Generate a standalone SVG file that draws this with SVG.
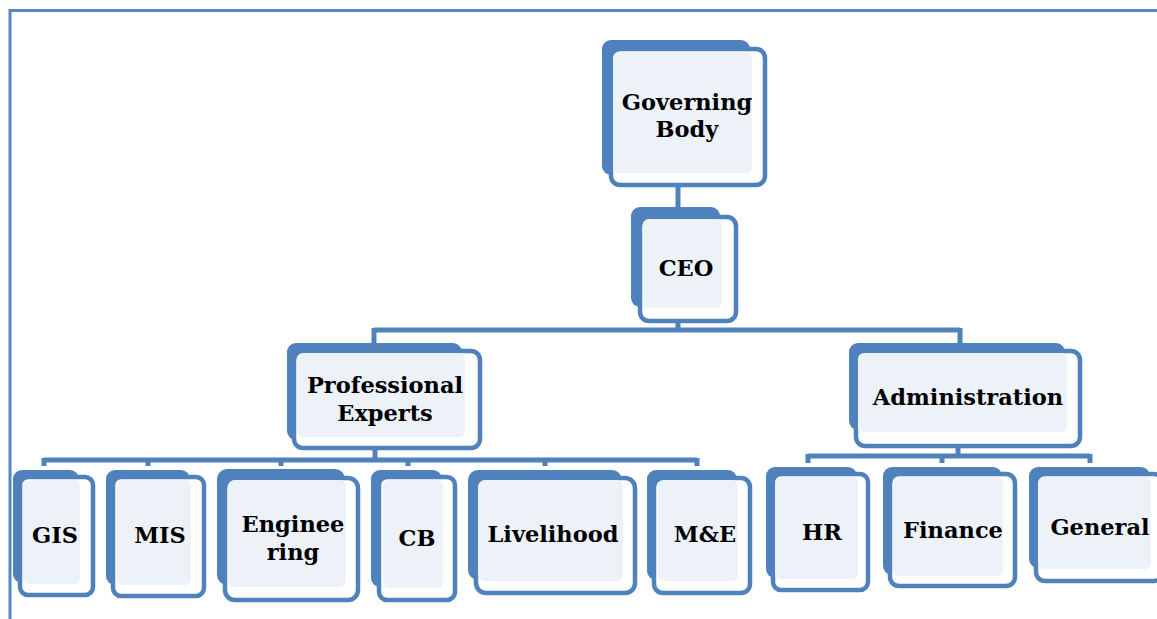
<svg xmlns="http://www.w3.org/2000/svg" width="1157" height="619" viewBox="0 0 1157 619">
<style>
.a{fill:#4F81BD}
.b{fill:#FFFFFF;stroke:#4F81BD;stroke-width:4.5}
.c{fill:#EDF1F8}
.t{font-family:"DejaVu Serif","Liberation Serif",serif;font-weight:bold;font-size:22.5px;fill:#000;text-anchor:middle}
.conn{fill:none;stroke:#4F81BD;stroke-width:5}
.frame{fill:none;stroke:#5587C6;stroke-width:3}
</style>
<rect width="1157" height="619" fill="#FFFFFF"/>
<path class="frame" d="M10 619 V10.5 H1157"/>
<g id="connectors">
<path class="conn" d="M678 185 V209"/>
<path class="conn" d="M678 321 V330 M374 330 H960 M374 328 V345 M960 328 V345"/>
<path class="conn" d="M375 448 V460 M44 460 H697 M44 458 V466 M148 458 V466 M281 458 V466 M408 458 V466 M545 458 V466 M697 458 V466"/>
<path class="conn" d="M958 446 V456 M808 456 H1090 M808 454 V463 M942 454 V463 M1090 454 V463"/>
</g>
<g id="governing-body">
<rect class="a" x="602" y="40" width="148" height="135" rx="9"/>
<rect class="b" x="611" y="49" width="154" height="136" rx="9"/>
<rect class="c" x="613" y="52" width="139" height="121" rx="6"/>
<text class="t" x="687" y="110">Governing</text>
<text class="t" x="687" y="137">Body</text>
</g>
<g id="ceo">
<rect class="a" x="631" y="207" width="89" height="100" rx="9"/>
<rect class="b" x="640" y="217" width="96" height="104" rx="9"/>
<rect class="c" x="643" y="219" width="79" height="89" rx="6"/>
<text class="t" x="686" y="276">CEO</text>
</g>
<g id="professional-experts">
<rect class="a" x="287" y="343" width="175" height="97" rx="9"/>
<rect class="b" x="294" y="351" width="186" height="97" rx="9"/>
<rect class="c" x="297" y="353" width="168" height="84" rx="6"/>
<text class="t" x="385" y="393">Professional</text>
<text class="t" x="385" y="421">Experts</text>
</g>
<g id="administration">
<rect class="a" x="849" y="343" width="216" height="87" rx="9"/>
<rect class="b" x="856" y="351" width="224" height="95" rx="9"/>
<rect class="c" x="858" y="353" width="209" height="79" rx="6"/>
<text class="t" x="968" y="405">Administration</text>
</g>
<g id="gis">
<rect class="a" x="13" y="470" width="66" height="113" rx="9"/>
<rect class="b" x="20" y="477" width="73" height="118" rx="8"/>
<rect class="c" x="23" y="480" width="57" height="104" rx="6"/>
<text class="t" x="55" y="543">GIS</text>
</g>
<g id="mis">
<rect class="a" x="106" y="470" width="84" height="115" rx="9"/>
<rect class="b" x="113" y="477" width="91" height="119" rx="8"/>
<rect class="c" x="117" y="480" width="74" height="105" rx="6"/>
<text class="t" x="160" y="543">MIS</text>
</g>
<g id="engineering">
<rect class="a" x="217" y="469" width="128" height="116" rx="10"/>
<rect class="b" x="225" y="478" width="133" height="122" rx="10"/>
<rect class="c" x="228" y="480" width="118" height="107" rx="7"/>
<text class="t" x="293" y="532">Enginee</text>
<text class="t" x="293" y="560">ring</text>
</g>
<g id="cb">
<rect class="a" x="371" y="470" width="71" height="117" rx="9"/>
<rect class="b" x="379" y="477" width="76" height="123" rx="8"/>
<rect class="c" x="383" y="480" width="60" height="108" rx="6"/>
<text class="t" x="417" y="546">CB</text>
</g>
<g id="livelihood">
<rect class="a" x="468" y="470" width="154" height="110" rx="10"/>
<rect class="b" x="476" y="478" width="159" height="115" rx="10"/>
<rect class="c" x="478" y="480" width="145" height="101" rx="7"/>
<text class="t" x="553" y="542">Livelihood</text>
</g>
<g id="m-and-e">
<rect class="a" x="647" y="470" width="90" height="110" rx="9"/>
<rect class="b" x="654" y="478" width="96" height="115" rx="9"/>
<rect class="c" x="658" y="480" width="80" height="101" rx="6"/>
<text class="t" x="705" y="542">M&amp;E</text>
</g>
<g id="hr">
<rect class="a" x="766" y="467" width="91" height="111" rx="9"/>
<rect class="b" x="773" y="474" width="95" height="116" rx="8"/>
<rect class="c" x="775" y="477" width="83" height="102" rx="6"/>
<text class="t" x="822" y="540">HR</text>
</g>
<g id="finance">
<rect class="a" x="883" y="467" width="119" height="108" rx="9"/>
<rect class="b" x="890" y="474" width="125" height="112" rx="9"/>
<rect class="c" x="893" y="477" width="110" height="99" rx="6"/>
<text class="t" x="953" y="538">Finance</text>
</g>
<g id="general">
<rect class="a" x="1029" y="467" width="121" height="101" rx="9"/>
<rect class="b" x="1036" y="474" width="127" height="107" rx="9"/>
<rect class="c" x="1038" y="477" width="113" height="92" rx="6"/>
<text class="t" x="1100" y="535">General</text>
</g>
</svg>
